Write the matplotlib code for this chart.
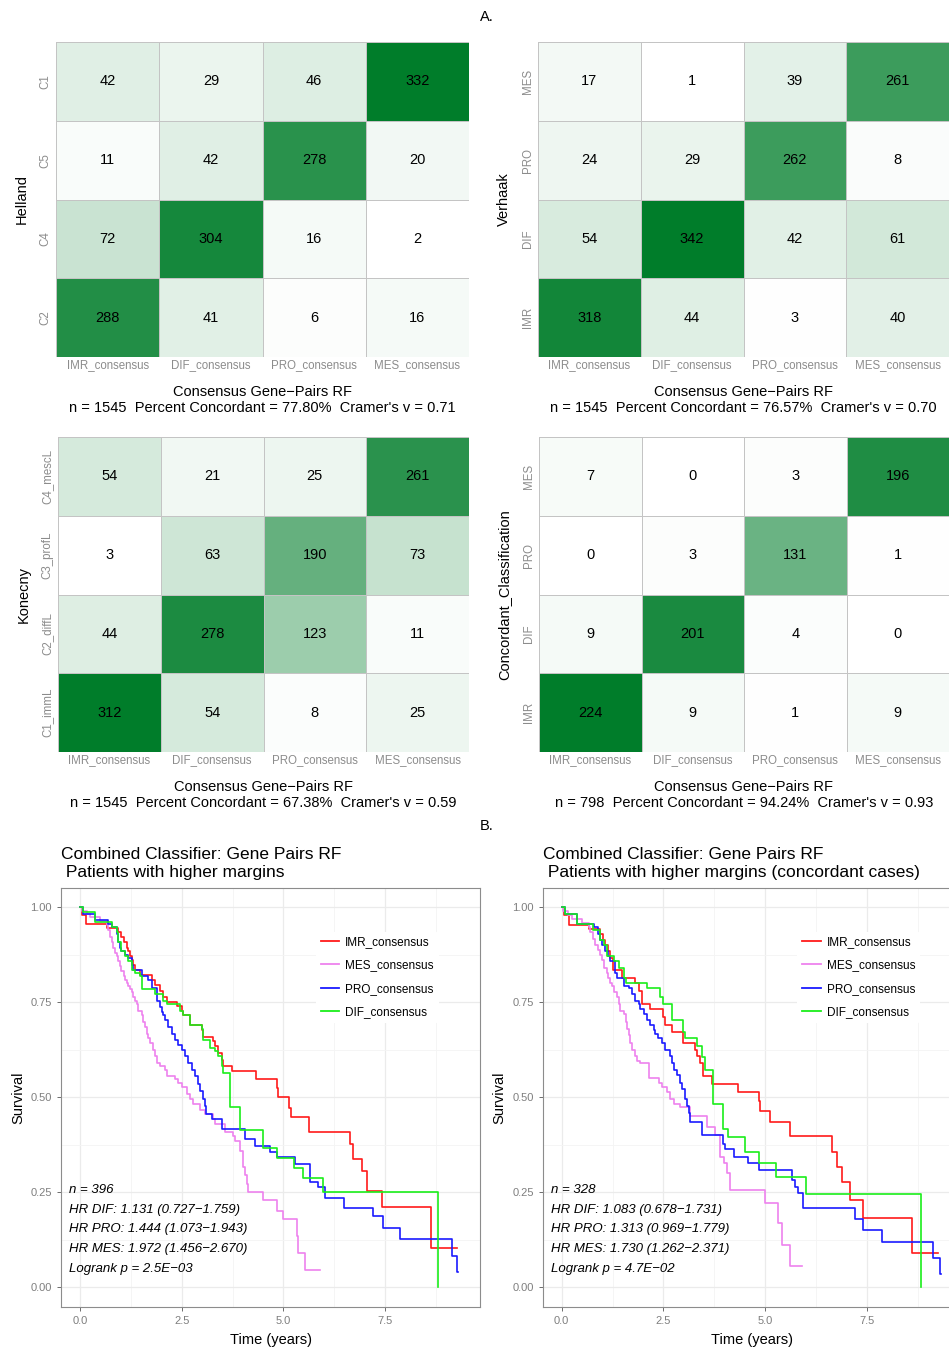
import matplotlib.pyplot as plt
import numpy as np
from matplotlib.colors import LinearSegmentedColormap, Normalize

plt.rcParams['font.family'] = ['Liberation Sans', 'DejaVu Sans']

W, H = 949, 1349

# ---- heatmap data ----
consensus = ["IMR_consensus", "DIF_consensus", "PRO_consensus", "MES_consensus"]

helland_rows = ["C1", "C5", "C4", "C2"]
helland_counts = [[42, 29, 46, 332],
                  [11, 42, 278, 20],
                  [72, 304, 16, 2],
                  [288, 41, 6, 16]]

verhaak_rows = ["MES", "PRO", "DIF", "IMR"]
verhaak_counts = [[17, 1, 39, 261],
                  [24, 29, 262, 8],
                  [54, 342, 42, 61],
                  [318, 44, 3, 40]]

konecny_rows = ["C4_mescL", "C3_profL", "C2_diffL", "C1_immL"]
konecny_counts = [[54, 21, 25, 261],
                  [3, 63, 190, 73],
                  [44, 278, 123, 11],
                  [312, 54, 8, 25]]

concord_rows = ["MES", "PRO", "DIF", "IMR"]
concord_counts = [[7, 0, 3, 196],
                  [0, 3, 131, 1],
                  [9, 201, 4, 0],
                  [224, 9, 1, 9]]

heat_stats = ["n = 1545  Percent Concordant = 77.80%  Cramer's v = 0.71",
              "n = 1545  Percent Concordant = 76.57%  Cramer's v = 0.70",
              "n = 1545  Percent Concordant = 67.38%  Cramer's v = 0.59",
              "n = 798  Percent Concordant = 94.24%  Cramer's v = 0.93"]

# ---- survival curves (step times / survival after step), last entry = end of follow-up ----
l_imr_t = [0, 0.05, 0.14, 0.66, 0.94, 1.02, 1.07, 1.15, 1.19, 1.23, 1.27, 1.31, 1.35, 1.48, 1.76, 1.84,
           1.97, 2.05, 2.13, 2.38, 2.50, 2.54, 2.70, 2.99, 3.03, 3.28, 3.32, 3.40, 3.48, 3.52, 3.73, 4.32,
           4.84, 4.88, 5.14, 5.18, 5.64, 6.64, 6.72, 6.93, 7.05, 7.42, 8.63, 9.26]
l_imr_s = [1.0, 0.98, 0.957, 0.945, 0.935, 0.922, 0.909, 0.892, 0.884, 0.871, 0.862, 0.849, 0.836, 0.823,
           0.81, 0.797, 0.78, 0.763, 0.75, 0.741, 0.728, 0.716, 0.69, 0.677, 0.659, 0.647, 0.634, 0.616,
           0.599, 0.582, 0.569, 0.547, 0.525, 0.50, 0.473, 0.447, 0.41, 0.377, 0.337, 0.307, 0.254, 0.211,
           0.104, 0.104]

l_mes_t = [0, 0.04, 0.16, 0.25, 0.49, 0.66, 0.70, 0.74, 0.78, 0.82, 0.86, 0.90, 0.94, 0.98, 1.02, 1.07,
           1.11, 1.15, 1.19, 1.23, 1.27, 1.31, 1.35, 1.39, 1.43, 1.52, 1.56, 1.60, 1.64, 1.68, 1.72, 1.80,
           1.84, 1.89, 1.97, 2.09, 2.13, 2.34, 2.42, 2.50, 2.62, 2.70, 2.79, 2.95, 3.07, 3.28, 3.32, 3.56,
           3.77, 3.81, 3.93, 4.00, 4.06, 4.10, 4.14, 4.51, 4.84, 5.00, 5.33, 5.37, 5.53, 5.90]
l_mes_s = [1.0, 0.991, 0.983, 0.974, 0.963, 0.953, 0.94, 0.922, 0.909, 0.892, 0.879, 0.871, 0.858, 0.845,
           0.832, 0.819, 0.81, 0.802, 0.793, 0.784, 0.776, 0.763, 0.754, 0.746, 0.728, 0.716, 0.698, 0.685,
           0.668, 0.655, 0.642, 0.625, 0.608, 0.591, 0.582, 0.573, 0.556, 0.547, 0.539, 0.526, 0.509, 0.496,
           0.483, 0.468, 0.456, 0.443, 0.43, 0.41, 0.398, 0.386, 0.36, 0.318, 0.295, 0.272, 0.252, 0.23,
           0.2, 0.18, 0.134, 0.09, 0.045, 0.045]

l_pro_t = [0, 0.08, 0.37, 0.70, 0.78, 0.90, 0.94, 0.98, 1.02, 1.11, 1.19, 1.27, 1.31, 1.52, 1.68, 1.76,
           1.89, 1.97, 2.01, 2.05, 2.09, 2.17, 2.25, 2.34, 2.42, 2.50, 2.58, 2.66, 2.75, 2.83, 2.91, 2.95,
           3.03, 3.07, 3.11, 3.24, 3.48, 4.06, 4.30, 4.67, 4.84, 5.29, 5.66, 5.86, 6.02, 6.48, 7.21, 7.46,
           7.87, 9.14, 9.26, 9.30]
l_pro_s = [1.0, 0.983, 0.966, 0.957, 0.948, 0.93, 0.909, 0.892, 0.884, 0.875, 0.866, 0.849, 0.836, 0.819,
           0.81, 0.789, 0.754, 0.737, 0.724, 0.716, 0.703, 0.685, 0.668, 0.651, 0.638, 0.625, 0.608, 0.591,
           0.573, 0.556, 0.534, 0.517, 0.496, 0.478, 0.456, 0.443, 0.416, 0.39, 0.372, 0.355, 0.342, 0.324,
           0.276, 0.263, 0.236, 0.21, 0.188, 0.157, 0.127, 0.083, 0.04, 0.04]

l_dif_t = [0, 0.08, 0.37, 0.78, 0.90, 0.94, 1.02, 1.11, 1.19, 1.27, 1.35, 1.48, 1.52, 1.84, 2.05, 2.13,
           2.46, 2.54, 2.70, 2.99, 3.03, 3.20, 3.32, 3.40, 3.48, 3.52, 3.69, 3.93, 4.51, 4.84, 5.25, 5.49,
           5.98, 8.81, 8.81]
l_dif_s = [1.0, 0.987, 0.961, 0.948, 0.935, 0.909, 0.884, 0.871, 0.858, 0.836, 0.828, 0.819, 0.784, 0.772,
           0.754, 0.746, 0.728, 0.716, 0.69, 0.681, 0.651, 0.629, 0.621, 0.608, 0.582, 0.565, 0.475, 0.414,
           0.366, 0.34, 0.313, 0.287, 0.25, 0.0, 0.0]

r_imr_t = [0, 0.05, 0.17, 0.66, 0.94, 1.02, 1.07, 1.15, 1.19, 1.27, 1.48, 1.81, 1.89, 1.97, 2.18, 2.50,
           2.54, 2.70, 2.99, 3.28, 3.32, 3.40, 3.48, 3.70, 4.34, 4.84, 4.88, 5.12, 5.61, 6.64, 6.76, 6.89,
           7.10, 7.42, 8.61, 9.26]
r_imr_s = [1.0, 0.98, 0.953, 0.944, 0.93, 0.914, 0.9, 0.884, 0.866, 0.836, 0.815, 0.802, 0.78, 0.746,
           0.733, 0.711, 0.69, 0.672, 0.642, 0.625, 0.608, 0.591, 0.556, 0.535, 0.513, 0.491, 0.465, 0.435,
           0.397, 0.356, 0.317, 0.278, 0.23, 0.182, 0.09, 0.09]

r_mes_t = [0, 0.04, 0.16, 0.25, 0.49, 0.66, 0.70, 0.78, 0.82, 0.90, 0.94, 0.98, 1.03, 1.11, 1.15, 1.19,
           1.24, 1.28, 1.36, 1.40, 1.44, 1.52, 1.57, 1.61, 1.65, 1.69, 1.73, 1.81, 1.85, 1.93, 2.14, 2.39,
           2.47, 2.59, 2.67, 2.75, 2.91, 3.16, 3.57, 3.77, 3.89, 3.98, 4.06, 4.14, 4.99, 5.32, 5.41, 5.61,
           5.90]
r_mes_s = [1.0, 0.99, 0.98, 0.97, 0.96, 0.948, 0.935, 0.918, 0.9, 0.888, 0.875, 0.862, 0.84, 0.828, 0.815,
           0.802, 0.793, 0.776, 0.763, 0.746, 0.728, 0.72, 0.698, 0.681, 0.664, 0.642, 0.625, 0.608, 0.595,
           0.591, 0.552, 0.539, 0.526, 0.513, 0.496, 0.483, 0.474, 0.452, 0.422, 0.40, 0.343, 0.326, 0.30,
           0.256, 0.221, 0.169, 0.112, 0.056, 0.056]

r_pro_t = [0, 0.09, 0.38, 0.79, 0.90, 0.95, 0.99, 1.07, 1.15, 1.20, 1.31, 1.36, 1.52, 1.65, 1.73, 1.81,
           1.89, 1.93, 2.02, 2.10, 2.18, 2.26, 2.30, 2.38, 2.47, 2.55, 2.67, 2.71, 2.75, 2.84, 2.92, 2.96,
           3.04, 3.08, 3.12, 3.16, 3.44, 3.97, 4.01, 4.24, 4.58, 4.84, 5.66, 5.74, 5.82, 5.94, 7.21, 7.42,
           7.87, 9.14, 9.30, 9.32]
r_pro_s = [1.0, 0.983, 0.957, 0.948, 0.93, 0.914, 0.9, 0.884, 0.871, 0.858, 0.828, 0.815, 0.793, 0.789,
           0.772, 0.754, 0.746, 0.733, 0.72, 0.703, 0.69, 0.677, 0.668, 0.655, 0.642, 0.625, 0.608, 0.591,
           0.573, 0.56, 0.539, 0.522, 0.496, 0.478, 0.46, 0.435, 0.40, 0.378, 0.365, 0.343, 0.326, 0.308,
           0.282, 0.265, 0.247, 0.209, 0.179, 0.152, 0.12, 0.078, 0.035, 0.035]

r_dif_t = [0, 0.08, 0.38, 0.78, 0.94, 1.03, 1.11, 1.28, 1.40, 1.52, 1.57, 2.10, 2.42, 2.50, 2.70, 2.99,
           3.03, 3.32, 3.44, 3.52, 3.73, 3.97, 4.08, 4.50, 4.84, 5.28, 6.00, 8.84, 8.84]
r_dif_s = [1.0, 0.983, 0.955, 0.94, 0.914, 0.9, 0.871, 0.858, 0.84, 0.815, 0.80, 0.789, 0.763, 0.746,
           0.703, 0.672, 0.655, 0.635, 0.607, 0.573, 0.483, 0.417, 0.395, 0.356, 0.326, 0.291, 0.245, 0.0,
           0.0]

left_stats = ["n = 396", "HR DIF: 1.131 (0.727\u22121.759)", "HR PRO: 1.444 (1.073\u22121.943)",
              "HR MES: 1.972 (1.456\u22122.670)", "Logrank p = 2.5E\u221203"]
right_stats = ["n = 328", "HR DIF: 1.083 (0.678\u22121.731)", "HR PRO: 1.313 (0.969\u22121.779)",
               "HR MES: 1.730 (1.262\u22122.371)", "Logrank p = 4.7E\u221202"]

fig = plt.figure(figsize=(W / 100, H / 100), dpi=100)


def px_axes(x0, y0, x1, y1):
    return fig.add_axes([x0 / W, 1 - y1 / H, (x1 - x0) / W, (y1 - y0) / H])


green_map = LinearSegmentedColormap.from_list("wg", ["#ffffff", "#e4f0e4", "#007d2a"], N=256)


def heatmap(box, counts, rows, ylabel, stats):
    ax = px_axes(*box)
    data = np.array(counts)
    norm = Normalize(vmin=data.min(), vmax=data.max())
    ax.pcolormesh(np.arange(5), np.arange(5), data, cmap=LinearSegmentedColormap.from_list(
        "wg", ["#ffffff", "#007d2a"]), norm=norm, edgecolors="#c4c4c4", linewidth=0.6)
    ax.set_xlim(0, 4)
    ax.set_ylim(4, 0)
    for i in range(4):
        for j in range(4):
            ax.text(j + 0.5, i + 0.5, str(data[i, j]), ha="center", va="center", fontsize=10.5, color="black")
    ax.set_xticks(np.arange(4) + 0.5)
    ax.set_xticklabels(consensus, fontsize=8.3, color="#8c8c8c")
    ax.set_yticks(np.arange(4) + 0.5)
    ax.set_yticklabels(rows, fontsize=8.3, color="#8c8c8c", rotation=90, va="center")
    ax.tick_params(axis="x", length=0, pad=1.5)
    ax.tick_params(axis="y", length=0, pad=3)
    for sp in ax.spines.values():
        sp.set_visible(False)
    ax.set_ylabel(ylabel, fontsize=10.5, labelpad=8)
    ax.set_xlabel("Consensus Gene\u2212Pairs RF\n" + stats, fontsize=10.5, labelpad=10, linespacing=1.15)
    return ax


heatmap((56, 42, 469, 357), helland_counts, helland_rows, "Helland", heat_stats[0])
heatmap((538, 42, 949, 357), verhaak_counts, verhaak_rows, "Verhaak", heat_stats[1])
heatmap((58, 437, 469, 752), konecny_counts, konecny_rows, "Konecny", heat_stats[2])
heatmap((539, 437, 949, 752), concord_counts, concord_rows, "Concordant_Classification", heat_stats[3])

fig.text(487 / W, 1 - 17 / H, "A.", ha="center", va="center", fontsize=10.5)
fig.text(487 / W, 1 - 826 / H, "B.", ha="center", va="center", fontsize=10.5)


def km_panel(x0, curves, stats, title):
    ax = px_axes(x0, 888, x0 + 419, 1306.7)
    for t, s, col, lab in curves:
        ax.step(t, s, where="post", color=col, lw=1.2, label=lab)
    ax.set_xlim(-0.467, 9.835)
    ax.set_ylim(-0.051, 1.051)
    ax.set_xticks([0, 2.5, 5, 7.5])
    ax.set_xticklabels(["0.0", "2.5", "5.0", "7.5"])
    ax.set_yticks([0, 0.25, 0.5, 0.75, 1.0])
    ax.set_yticklabels(["0.00", "0.25", "0.50", "0.75", "1.00"])
    ax.set_xticks([1.25, 3.75, 6.25, 8.75], minor=True)
    ax.set_yticks([0.125, 0.375, 0.625, 0.875], minor=True)
    ax.grid(which="major", color="#ebebeb", lw=0.9)
    ax.grid(which="minor", color="#f4f4f4", lw=0.6)
    ax.set_axisbelow(True)
    ax.tick_params(which="major", labelsize=8, labelcolor="#7f7f7f", color="#555555", length=3, width=0.6)
    ax.tick_params(which="minor", length=0)
    for sp in ax.spines.values():
        sp.set_color("#8c8c8c")
        sp.set_linewidth(0.8)
    ax.set_xlabel("Time (years)", fontsize=10.5, labelpad=5)
    ax.set_ylabel("Survival", fontsize=10.5, labelpad=4)
    ax.set_title(title, loc="left", fontsize=12.5, pad=8, linespacing=1.25)
    for i, line in enumerate(stats):
        ax.text(0.019, 0.278 - i * 0.0468, line, transform=ax.transAxes, fontsize=9.5,
                style="italic", ha="left", va="center")
    leg = ax.legend(loc="upper left", bbox_to_anchor=(0.594, 0.91), fontsize=8.5, frameon=True,
                    facecolor="white", edgecolor="none", framealpha=1, handlelength=1.55,
                    handletextpad=0.55, labelspacing=0.95, borderpad=0.4)
    for h in leg.get_lines():
        h.set_linewidth(1.3)
    return ax


km_panel(61, [(l_imr_t, l_imr_s, "#ff1a1a", "IMR_consensus"),
              (l_mes_t, l_mes_s, "#ee82ee", "MES_consensus"),
              (l_pro_t, l_pro_s, "#1a1aff", "PRO_consensus"),
              (l_dif_t, l_dif_s, "#1aee1a", "DIF_consensus")],
         left_stats, "Combined Classifier: Gene Pairs RF\n Patients with higher margins")
km_panel(542.7, [(r_imr_t, r_imr_s, "#ff1a1a", "IMR_consensus"),
                 (r_mes_t, r_mes_s, "#ee82ee", "MES_consensus"),
                 (r_pro_t, r_pro_s, "#1a1aff", "PRO_consensus"),
                 (r_dif_t, r_dif_s, "#1aee1a", "DIF_consensus")],
         right_stats, "Combined Classifier: Gene Pairs RF\n Patients with higher margins (concordant cases)")

fig.savefig("out.png", dpi=100)
